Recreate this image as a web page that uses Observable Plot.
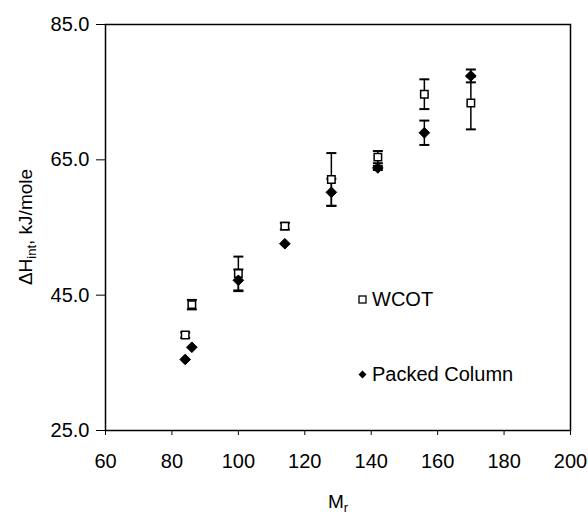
<!DOCTYPE html>
<html>
<head>
<meta charset="utf-8">
<script src="https://cdn.jsdelivr.net/npm/d3@7"></script>
<script src="https://cdn.jsdelivr.net/npm/@observablehq/plot@0.6"></script>
<style>
  html, body { margin: 0; padding: 0; background: white; }
  #chart { position: relative; width: 588px; height: 517px; }
  .legend { position: absolute; font-family: "Liberation Sans", Arial, sans-serif; font-size: 20px; color: black; display: flex; align-items: center; height: 24px; }
  .legend svg { margin-right: 5px; }
</style>
</head>
<body>
<div id="chart"></div>
<script>
// Data
const mr = [84, 86, 100, 114, 128, 142, 156, 170];
const wcot = [39.1, 43.6, 48.2, 55.2, 62.1, 65.4, 74.7, 73.4];
const wcotErr = [0.4, 0.7, 2.5, 0.5, 3.9, 0.9, 2.2, 3.9];
const packed = [35.5, 37.3, 47.2, 52.6, 60.2, 63.8, 69.0, 77.4];
const packedErr = [0, 0, 1.6, 0, 2.0, 0.3, 1.8, 0.95];
const xTicks = [60, 80, 100, 120, 140, 160, 180, 200];
const yTicks = [25.0, 45.0, 65.0, 85.0];
const seriesNames = ["WCOT", "Packed Column"];

const wcotData = mr.map((m, i) => ({x: m, y: wcot[i], e: wcotErr[i]}));
const packedData = mr.map((m, i) => ({x: m, y: packed[i], e: packedErr[i]}));
const errData = [...wcotData, ...packedData].filter(d => d.e > 0);

const capSymbol = {
  draw(context, size) {
    context.moveTo(-5, 0);
    context.lineTo(5, 0);
  }
};

const chart = Plot.plot({
  width: 588,
  height: 517,
  marginLeft: 105,
  marginRight: 18,
  marginTop: 24,
  marginBottom: 87,
  style: {fontFamily: "Liberation Sans, Arial, sans-serif", fontSize: "20px", color: "black", background: "white"},
  x: {domain: [60, 200]},
  y: {domain: [25, 85]},
  marks: [
    Plot.frame({stroke: "black", strokeWidth: 1.5}),
    Plot.axisX({ticks: xTicks, tickSize: 5, tickPadding: 18, label: null, strokeWidth: 1}),
    Plot.axisY({ticks: yTicks, tickSize: 9, tickPadding: 7, tickFormat: d3.format(".1f"), label: null, strokeWidth: 1}),
    Plot.ruleX(errData, {x: "x", y1: d => d.y - d.e, y2: d => d.y + d.e, stroke: "black", strokeWidth: 1.5}),
    Plot.dot(errData, {x: "x", y: d => d.y - d.e, symbol: capSymbol, stroke: "black", strokeWidth: 2}),
    Plot.dot(errData, {x: "x", y: d => d.y + d.e, symbol: capSymbol, stroke: "black", strokeWidth: 2}),
    Plot.dot(wcotData, {x: "x", y: "y", symbol: "square", r: 4.2, fill: "white", stroke: "black", strokeWidth: 1.5}),
    Plot.dot(packedData, {x: "x", y: "y", symbol: "diamond2", r: 4.8, fill: "black", stroke: "black", strokeWidth: 1})
  ]
});

const svg = d3.select(chart);
// Y axis label with subscript
const yl = svg.append("text")
  .attr("transform", "translate(32,227) rotate(-90)")
  .attr("text-anchor", "middle")
  .attr("font-size", 19)
  .attr("fill", "black");
yl.append("tspan").text("ΔH");
yl.append("tspan").attr("font-size", 13).attr("dy", 4).text("int");
yl.append("tspan").attr("dy", -4).text(", kJ/mole");
// X axis label with subscript
const xl = svg.append("text")
  .attr("x", 338).attr("y", 508)
  .attr("text-anchor", "middle")
  .attr("font-size", 19)
  .attr("fill", "black");
xl.append("tspan").text("M");
xl.append("tspan").attr("font-size", 13).attr("dy", 4).text("r");

const container = document.getElementById("chart");
container.appendChild(chart);

// Legend
const legendItems = [
  {name: seriesNames[0], top: 287, svg: '<svg width="9" height="9"><rect x="1" y="1" width="7" height="7" fill="white" stroke="black" stroke-width="1.3"/></svg>'},
  {name: seriesNames[1], top: 362, svg: '<svg width="9" height="9"><path d="M4.5,0.5L8.5,4.5L4.5,8.5L0.5,4.5Z" fill="black"/></svg>'}
];
for (const item of legendItems) {
  const div = document.createElement("div");
  div.className = "legend";
  div.style.left = "358px";
  div.style.top = item.top + "px";
  div.innerHTML = item.svg + "<span>" + item.name + "</span>";
  container.appendChild(div);
}
</script>
</body>
</html>
